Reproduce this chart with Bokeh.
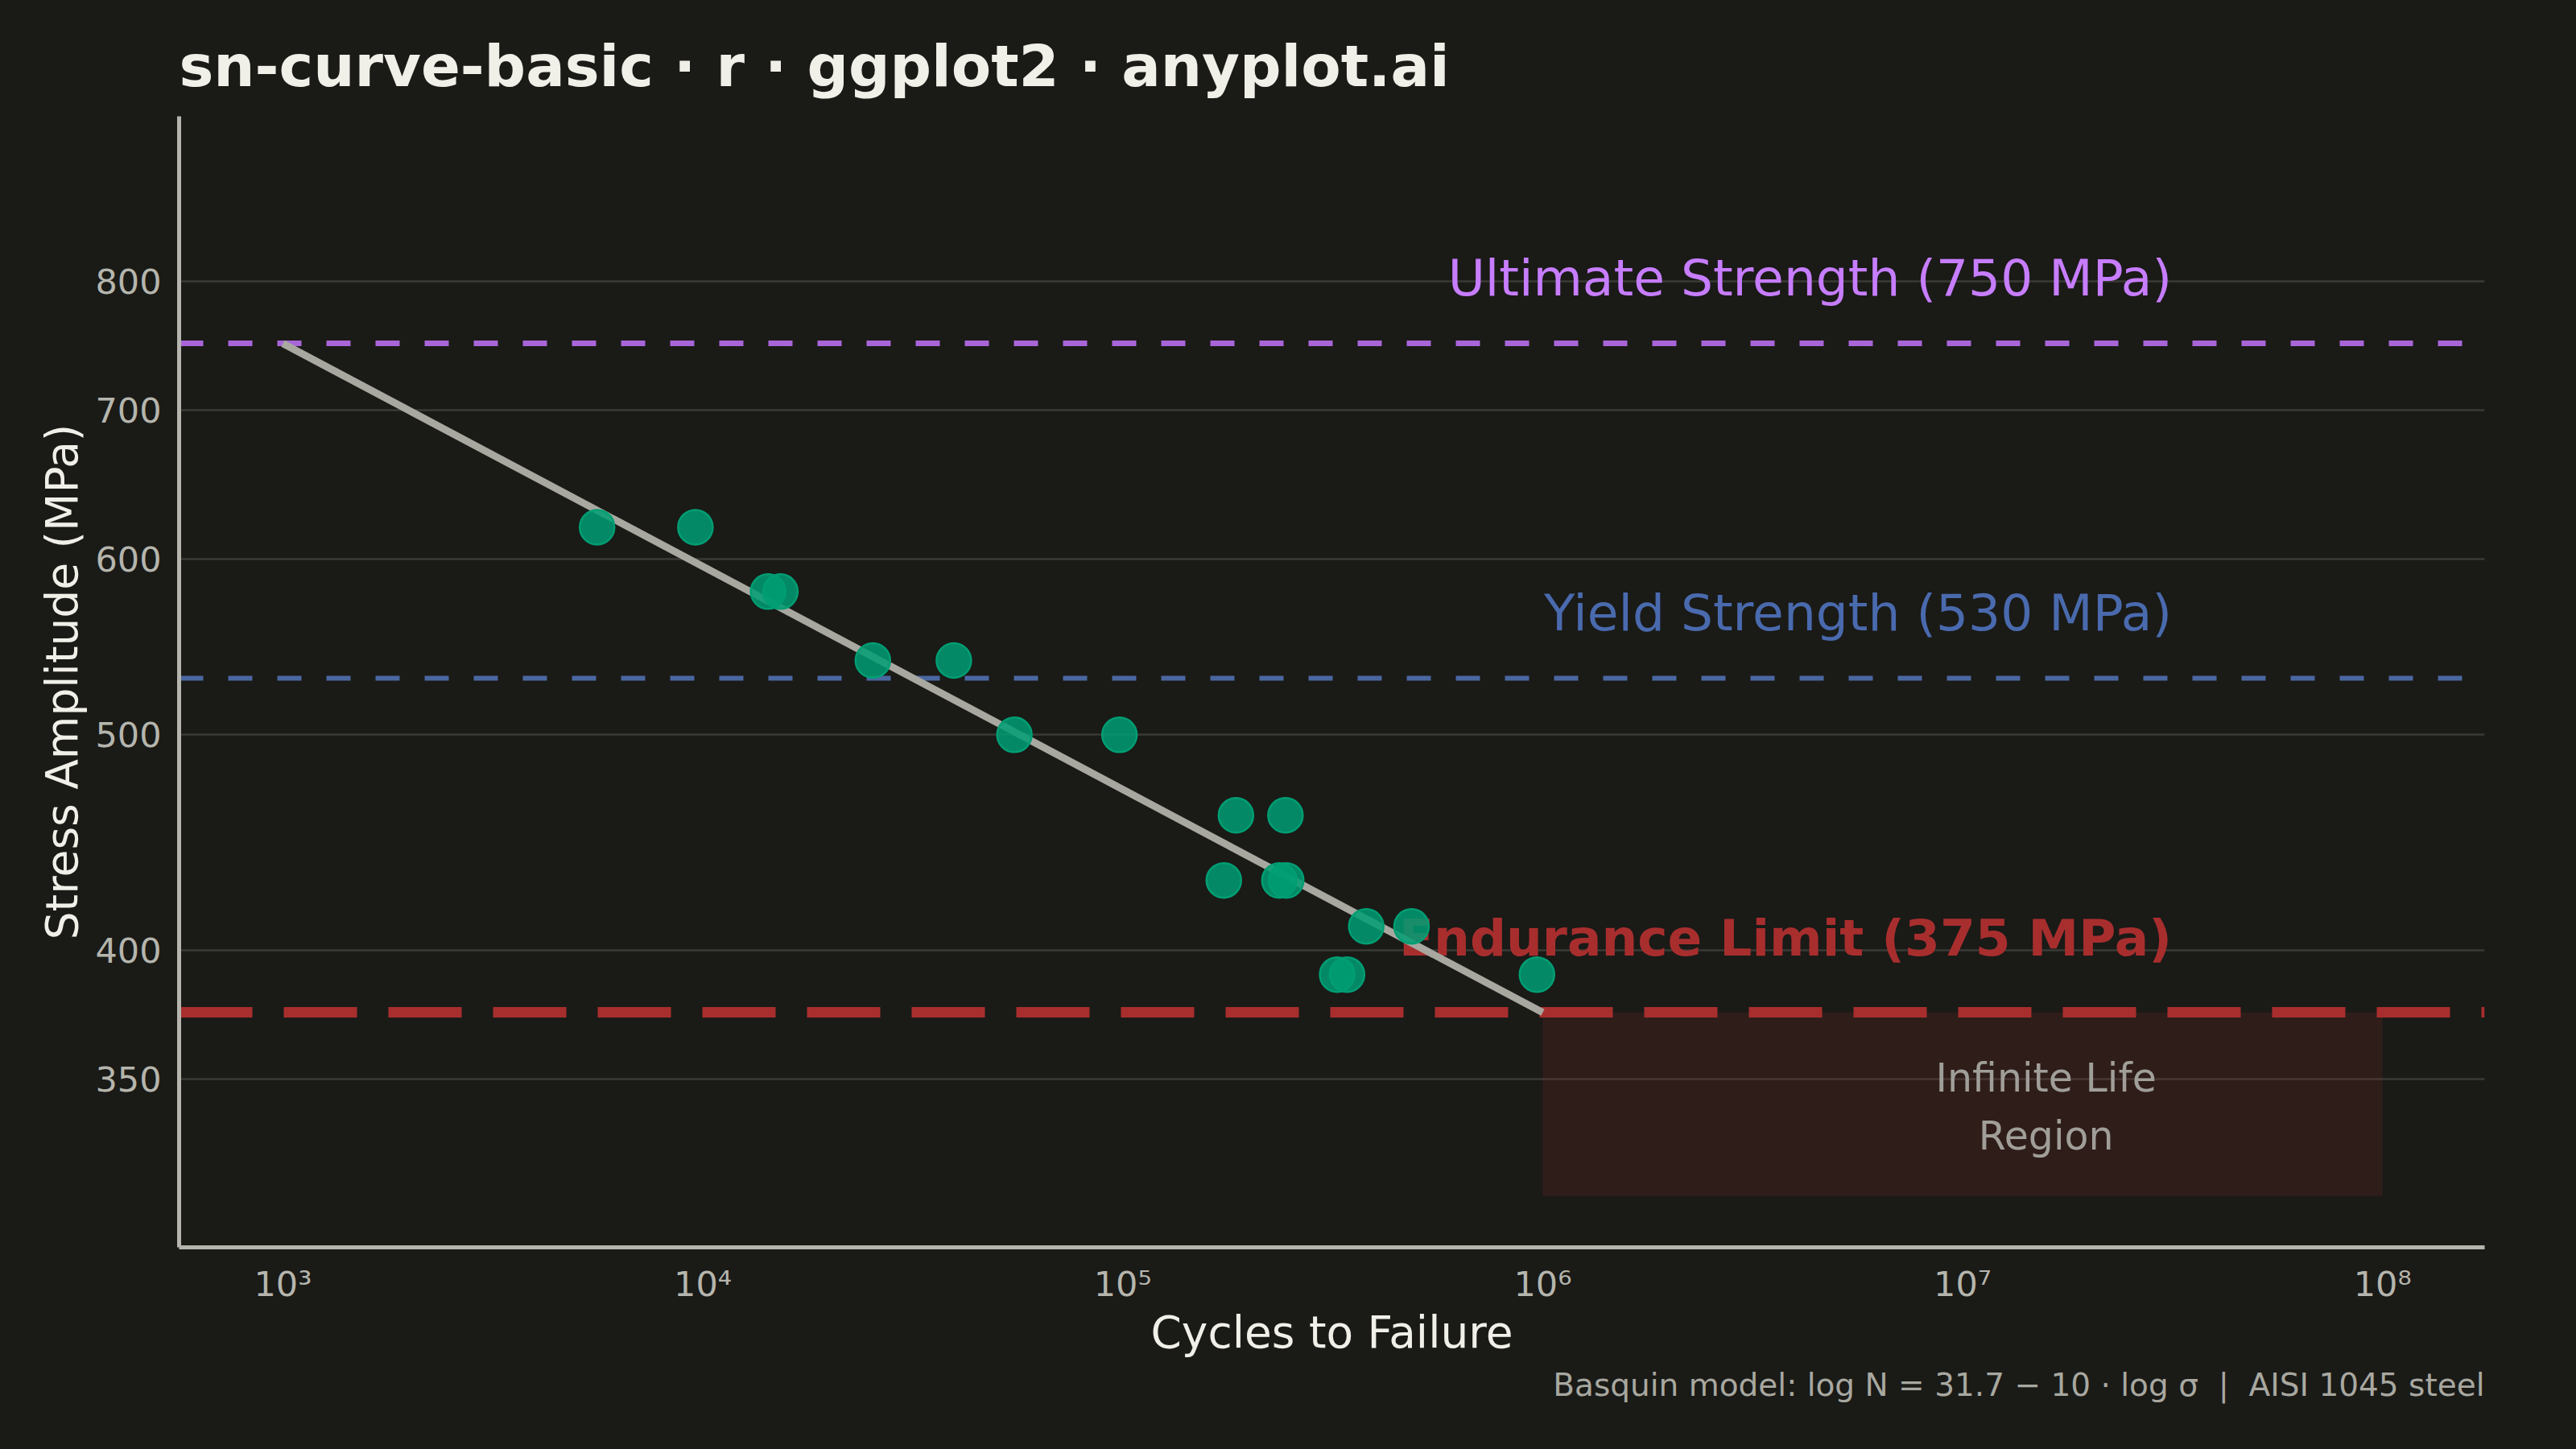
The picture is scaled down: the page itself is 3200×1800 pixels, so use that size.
from bokeh.plotting import figure
from bokeh.models import FixedTicker, Title
from bokeh.embed import file_html
from bokeh.resources import INLINE
from bokeh.core.properties import value

# ---- data -------------------------------------------------------------
cycles = [5600, 9600, 14300, 15300, 25400, 39600, 55200, 98200, 174000,
          186000, 236000, 244000, 245000, 324000, 342000, 380000, 487000, 969000]
stress = [620, 620, 580, 580, 540, 540, 500, 500, 430,
          460, 430, 460, 430, 390, 390, 410, 410, 390]

curve_cycles = [1e3, 1e6]
curve_stress = [750, 375]

ultimate_strength = 750
yield_strength = 530
endurance_limit = 375

region_cycles = [1e6, 1e8]
region_floor = 310

x_ticks = [10**3, 10**4, 10**5, 10**6, 10**7, 10**8]
x_tick_labels = ["10³", "10⁴", "10⁵", "10⁶", "10⁷", "10⁸"]
y_ticks = [350, 400, 500, 600, 700, 800]
y_tick_labels = ["350", "400", "500", "600", "700", "800"]

# ---- style ------------------------------------------------------------
BG = "#1a1a17"
FONT = "DejaVu Sans"
TXT = "#f0efe8"
TICK = "#b5b5ad"
PURPLE_L = "#a865d8"
PURPLE_T = "#c77dff"
BLUE_L = "#4a67a0"
BLUE_T = "#4a6aae"
RED = "#a82e2e"
GREEN = "#009E73"
CURVE = "#a8a8a0"

p = figure(width=3184, height=1784, x_axis_type="log", y_axis_type="log",
           x_range=(566, 1.75e8), y_range=(294, 949),
           output_backend="svg", toolbar_location=None,
           min_border_left=222, min_border_right=98,
           min_border_top=144, min_border_bottom=235)
p.background_fill_color = BG
p.border_fill_color = BG
p.outline_line_color = None
p.outline_line_alpha = 0
p.outline_line_width = 0

p.title.text = "sn-curve-basic · r · ggplot2 · anyplot.ai"
p.title.text_font = FONT
p.title.text_font_size = "72px"
p.title.text_font_style = "bold"
p.title.text_color = TXT
p.title.align = "left"
p.title.standoff = 42

NB = "\u00a0"
cap = Title(text=f"Basquin model: log N = 31.7 − 10 · log σ{NB}{NB}|{NB}{NB}AISI 1045 steel",
            align="right", text_font=FONT, text_font_size="39px",
            text_font_style="normal", text_color="#a8a8a0", standoff=12)
p.add_layout(cap, "below")

# axes
p.xaxis.ticker = FixedTicker(ticks=x_ticks)
p.xaxis.major_label_overrides = dict(zip(x_ticks, x_tick_labels))
p.yaxis.ticker = FixedTicker(ticks=y_ticks)
p.yaxis.major_label_overrides = dict(zip(y_ticks, y_tick_labels))
p.xaxis.axis_label = "Cycles to Failure"
p.yaxis.axis_label = "Stress Amplitude (MPa)"
for ax in (p.xaxis, p.yaxis):
    ax.axis_line_color = TICK
    ax.axis_line_width = 5
    ax.major_tick_line_color = None
    ax.minor_tick_line_color = None
    ax.major_label_text_font = FONT
    ax.major_label_text_font_size = "43px"
    ax.major_label_text_color = TICK
    ax.axis_label_text_font = FONT
    ax.axis_label_text_font_size = "55px"
    ax.axis_label_text_font_style = "normal"
    ax.axis_label_text_color = TXT
p.xaxis.major_label_standoff = 14
p.yaxis.major_label_standoff = 16
p.xaxis.axis_label_standoff = 0
p.yaxis.axis_label_standoff = 6

p.xgrid.visible = False
p.ygrid.ticker = FixedTicker(ticks=y_ticks)
p.ygrid.grid_line_color = "#3a3a36"
p.ygrid.grid_line_width = 2.5

# infinite life region
p.quad(left=[region_cycles[0]], right=[region_cycles[1]],
       bottom=[region_floor], top=[endurance_limit],
       fill_color=RED, fill_alpha=0.15, line_color=None)

# reference lines
p.hspan(y=[ultimate_strength], line_color=PURPLE_L, line_width=7, line_dash="30 31")
p.hspan(y=[yield_strength], line_color=BLUE_L, line_width=6, line_dash="30 31")
p.hspan(y=[endurance_limit], line_color=RED, line_width=13, line_dash="91 39")

# labels
lab_x = 3.15e7
p.text(x=[lab_x], y=[ultimate_strength * 1.07],
       text=[f"Ultimate Strength ({ultimate_strength} MPa)"],
       text_align="right", text_baseline="middle", text_font=value(FONT),
       text_font_size="63px", text_color=PURPLE_T)
p.text(x=[lab_x], y=[yield_strength * 1.07],
       text=[f"Yield Strength ({yield_strength} MPa)"],
       text_align="right", text_baseline="middle", text_font=value(FONT),
       text_font_size="63px", text_color=BLUE_T)
p.text(x=[lab_x], y=[endurance_limit * 1.08],
       text=[f"Endurance Limit ({endurance_limit} MPa)"],
       text_align="right", text_baseline="middle", text_font=value(FONT),
       text_font_size="63px", text_font_style="bold", text_color=RED)
p.text(x=[1.58e7], y=[340], text=["Infinite Life\nRegion"],
       text_align="center", text_baseline="middle", text_font=value(FONT),
       text_font_size="49px", text_color="#a09e98", text_line_height=1.27)

# Basquin curve and data
p.line(curve_cycles, curve_stress, line_color=CURVE, line_width=9)
p.scatter(cycles, stress, size=43, fill_color=GREEN, fill_alpha=0.85,
          line_color=GREEN, line_width=2.5)

html = file_html(p, INLINE)
html = html.replace("<head>", "<head><style>html, body { background: #1a1a17; }</style>", 1)
open("out.html", "w").write(html)
